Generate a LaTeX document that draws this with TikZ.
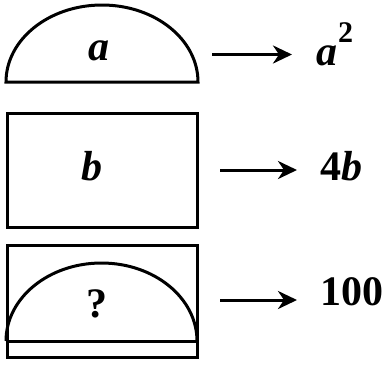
\documentclass[tikz,border=0pt]{standalone}
\usepackage{fontspec}
\setmainfont{Liberation Serif}
\usetikzlibrary{arrows.meta}
\begin{document}
\begin{tikzpicture}[x=1pt,y=-1pt,
  shapeline/.style={line width=3pt, line join=miter},
  lbl/.style={inner sep=0pt, anchor=base, font=\fontsize{42}{42}\selectfont\bfseries},
  res/.style={inner sep=0pt, anchor=base west, font=\fontsize{42}{42}\selectfont\bfseries},
  arr/.style={line width=3pt, -{Stealth[length=19pt,width=18pt,inset=6pt]}}]
\useasboundingbox (0,0) rectangle (390,365);
% top semi-ellipse
\draw[shapeline] (6,82) arc[start angle=180,end angle=360,x radius=96,y radius=77] -- cycle;
\node[lbl] (ta) at (99,60) {\itshape a};
% middle rectangle
\draw[shapeline] (7,113) rectangle (197,227);
\node[lbl] (tb) at (92,180) {\itshape b};
% bottom combined
\draw[shapeline] (7,245) rectangle (197,357);
\draw[shapeline] (6,341) -- (197,341);
\draw[shapeline] (6,341) arc[start angle=180,end angle=360,x radius=95.5,y radius=78];
\node[lbl] (tq) at (97,317) {?};
% results
\node[res] (r1) at (316,65) {\itshape a\kern1pt\raisebox{23pt}{\fontsize{30}{30}\selectfont\upshape\bfseries 2}};
\node[res] (r2) at (320,180) {4\itshape b};
\node[res] (r3) at (320,305) {100};
% arrows
\coordinate (s1) at (212,54.5);
\coordinate (e1) at (292,54.5);
\coordinate (s2) at (220,170);
\coordinate (e2) at (297,170);
\coordinate (s3) at (220,300);
\coordinate (e3) at (297,300);
\draw[arr] (s1) -- (e1);
\draw[arr] (s2) -- (e2);
\draw[arr] (s3) -- (e3);
\end{tikzpicture}
\end{document}
